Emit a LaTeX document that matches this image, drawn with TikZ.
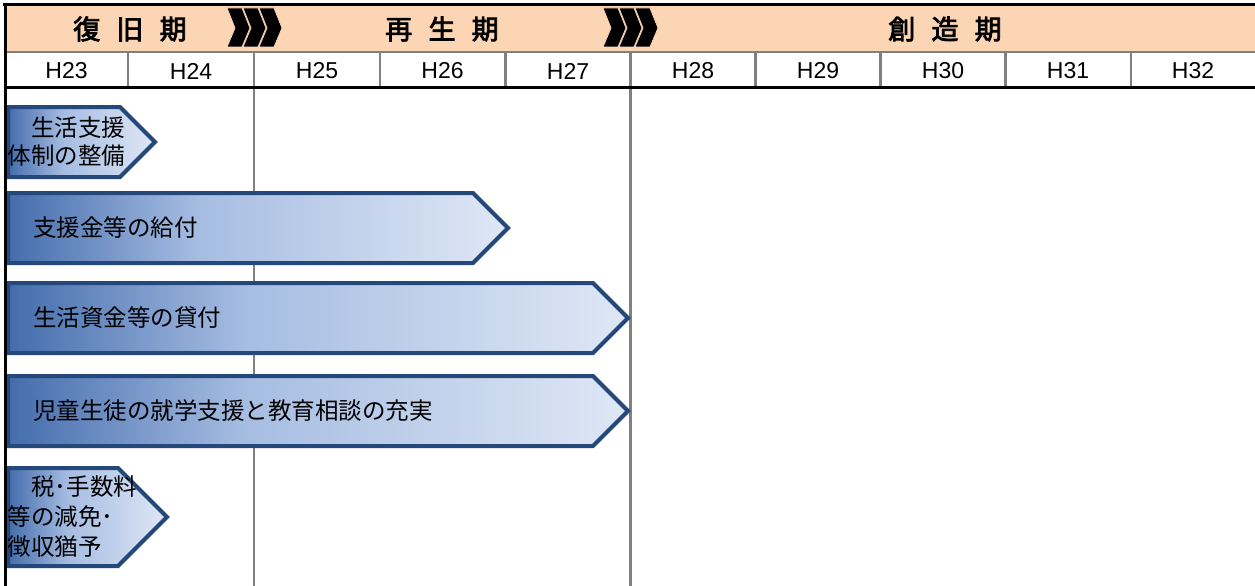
\documentclass[tikz,border=0pt]{standalone}
\usepackage{fontspec}
\setmainfont{Liberation Sans}
\newfontfamily\cjk{Noto Sans CJK JP}
\newfontfamily\cjkbold{Noto Sans CJK JP}[FakeBold=3]
\usetikzlibrary{calc,positioning}
\definecolor{peach}{RGB}{252,213,180}
\definecolor{gridgray}{RGB}{128,128,128}
\definecolor{bardark}{RGB}{68,108,172}
\definecolor{barmid}{RGB}{166,189,226}
\definecolor{barlight}{RGB}{223,231,245}
\definecolor{barline}{RGB}{36,72,122}
\pgfdeclarehorizontalshading{barshading}{100bp}{%
  color(0bp)=(bardark); color(25bp)=(bardark); color(44bp)=(barmid);
  color(75bp)=(barlight); color(100bp)=(barlight)}
\newcommand\PlanBar[4]{% name, top, bottom, tip
  \pgfmathsetmacro\half{(#3-#2)/2}
  \draw[planbar] (8,#2) -- (#4-\half,#2) -- (#4,#2+\half) -- (#4-\half,#3) -- (8,#3) -- cycle;
  \coordinate (#1) at (8,#2+\half);
}
\newcommand\Chevrons[1]{% left end of three black chevrons
  \foreach \k in {0,1,2} {
    \filldraw[chevron,xshift=\k*16pt] (#1,8) -- (#1+15,8) -- (#1+23,28) -- (#1+15,47) -- (#1,47) -- (#1+8,28) -- cycle;
  }
}
\tikzset{%
  frameline/.style={black,line width=3pt},
  gridline/.style={gridgray,line width=2.5pt},
  planbar/.style={draw=barline,line width=4pt,line join=miter,shading=barshading},
  chevron/.style={fill=black,draw=peach,line width=0.8pt},
  phase/.style={inner sep=0pt,outer sep=0pt,font=\cjkbold\fontsize{27}{30}\selectfont},
  yearlabel/.style={inner sep=0pt,outer sep=0pt,font=\fontsize{23}{26}\selectfont},
  bartext/.style={inner sep=0pt,outer sep=0pt,anchor=west,align=left,
    font=\cjk\fontsize{23.5}{28}\selectfont}
}
\begin{document}
\begin{tikzpicture}[x=1pt,y=-1pt]
    \useasboundingbox (0,0) rectangle (1255,586);
    % header band
    \fill[peach] (5,5) rectangle (1255,52);
    \draw[gridline] (5,52) -- (1255,52);
    \Chevrons{227}
    \Chevrons{603}
    \node[phase] (recovery) at (130,29) {復\hspace{0.6em}旧\hspace{0.6em}期};
    \node[phase] (revival) at (442,29) {再\hspace{0.6em}生\hspace{0.6em}期};
    \node[phase] (creation) at (945,29) {創\hspace{0.6em}造\hspace{0.6em}期};

    % year row
    \foreach \x in {128,254,380,505.5,630.5,755.5,880.5,1005.5,1131}
      \draw[gridline] (\x,52) -- (\x,87);
    \foreach \x/\y in {66.5/23,191/24,317/25,442.5/26,568/27,693/28,818/29,943/30,1068/31,1193/32}
      \node[yearlabel] (year\y) at (\x,71) {H\y};

    % body
    \draw[gridline] (254,87) -- (254,586);
    \draw[gridline] (630.5,87) -- (630.5,586);

    \PlanBar{bar1}{107}{177}{155}
    \PlanBar{bar2}{193}{263}{508}
    \PlanBar{bar3}{283}{353}{628}
    \PlanBar{bar4}{376}{446}{628}
    \PlanBar{bar5}{468}{566}{167}

    \node[bartext] (support) at (bar1) {\hspace*{1em}生活支援\\体制の整備};
    \node[bartext,right=25pt of bar2] (grant) {支援金等の給付};
    \node[bartext,right=25pt of bar3] (loan) {生活資金等の貸付};
    \node[bartext,right=25pt of bar4] (school) {児童生徒の就学支援と教育相談の充実};
    \node[bartext,font=\cjk\fontsize{23.5}{30}\selectfont] (tax) at (bar5)
      {\hspace*{1em}税･手数料\\等の減免･\\徴収猶予};

    % frame
    \draw[frameline] (3,5) -- (1255,5);
    \draw[frameline] (5,87) -- (1255,87);
    \draw[frameline] (5,3.5) -- (5,586);
\end{tikzpicture}
\end{document}
